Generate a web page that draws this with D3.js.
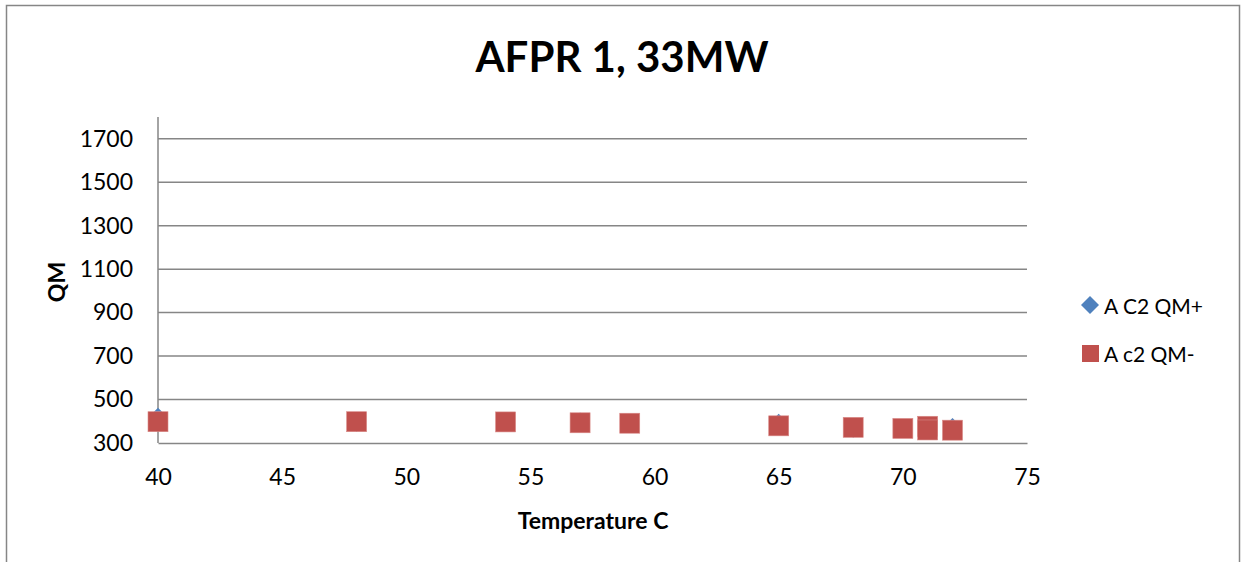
<!DOCTYPE html>
<html>
<head>
<meta charset="utf-8">
<script src="https://cdnjs.cloudflare.com/ajax/libs/d3/7.8.5/d3.min.js"></script>
<style>
  body { margin: 0; background: #fff; }
  text { font-family: Lato, "Open Sans", sans-serif; fill: #000; }
</style>
</head>
<body>
<div id="chart"></div>
<script>
var width = 1242, height = 562;

// data
var temps = [40, 48, 54, 57, 59, 65, 68, 70, 71, 71, 72];
var qmPlus = [421, 393, 398, 399, 392, 393, 365, 365, 372, 368, 374];
var qmMinus = [398, 398, 397, 393, 391, 379, 372, 367, 377, 360, 359];
var xTicks = [40, 45, 50, 55, 60, 65, 70, 75];
var yTicks = [300, 500, 700, 900, 1100, 1300, 1500, 1700];
var seriesNames = ["A C2 QM+", "A c2 QM-"];
var colors = ["#4f81bd", "#c0504d"];

var svg = d3.select("#chart")
    .append("svg")
    .attr("width", width)
    .attr("height", height);

// outer frame (bottom edge runs off the picture)
svg.append("rect")
    .attr("x", 6.5).attr("y", 5.5)
    .attr("width", 1233).attr("height", 600)
    .attr("fill", "none")
    .attr("stroke", "#868686")
    .attr("stroke-width", 1.5);

var x = d3.scaleLinear().domain([40, 75]).range([158, 1027]);
var y = d3.scaleLinear().domain([300, 1800]).range([443, 117]);

// gridlines
svg.append("g")
    .selectAll("line")
    .data(yTicks.slice(1))
    .enter().append("line")
      .attr("x1", x(40)).attr("x2", x(75))
      .attr("y1", function(d) { return y(d); })
      .attr("y2", function(d) { return y(d); })
      .attr("stroke", "#868686")
      .attr("stroke-width", 1.5);

// axes
var xAxis = svg.append("g")
    .attr("transform", "translate(0," + y(300) + ")")
    .call(d3.axisBottom(x).tickValues(xTicks).tickFormat(d3.format("d")).tickSize(0).tickPadding(26));
var yAxis = svg.append("g")
    .attr("transform", "translate(" + x(40) + ",0)")
    .call(d3.axisLeft(y).tickValues(yTicks).tickFormat(d3.format("d")).tickSize(0).tickPadding(25));

[xAxis, yAxis].forEach(function(g) {
  g.select(".domain").attr("stroke", "#868686").attr("stroke-width", 1.5);
  g.selectAll("text")
      .attr("font-family", "Lato, sans-serif")
      .attr("font-size", 23)
      .attr("fill", "#000");
});
yAxis.select(".domain").attr("d", "M0," + y(1800) + "V" + y(300));

// title and axis labels
svg.append("text")
    .attr("x", 622).attr("y", 56)
    .attr("text-anchor", "middle")
    .attr("dominant-baseline", "central")
    .attr("font-size", 42)
    .attr("font-weight", "bold")
    .text("AFPR 1, 33MW");

svg.append("text")
    .attr("x", 593).attr("y", 520)
    .attr("text-anchor", "middle")
    .attr("dominant-baseline", "central")
    .attr("font-size", 23)
    .attr("font-weight", "bold")
    .text("Temperature C");

svg.append("text")
    .attr("transform", "translate(56," + 282 + ") rotate(-90)")
    .attr("text-anchor", "middle")
    .attr("dominant-baseline", "central")
    .attr("font-size", 23)
    .attr("font-weight", "bold")
    .text("QM");

// markers
function diamond(r) {
  return "M0," + (-r) + "L" + r + ",0L0," + r + "L" + (-r) + ",0Z";
}

svg.append("g")
    .selectAll("path")
    .data(temps.map(function(t, i) { return [t, qmPlus[i]]; }))
    .enter().append("path")
      .attr("d", diamond(9))
      .attr("transform", function(d) { return "translate(" + x(d[0]) + "," + y(d[1]) + ")"; })
      .attr("fill", colors[0]);

svg.append("g")
    .selectAll("rect")
    .data(temps.map(function(t, i) { return [t, qmMinus[i]]; }))
    .enter().append("rect")
      .attr("x", function(d) { return x(d[0]) - 10; })
      .attr("y", function(d) { return y(d[1]) - 10; })
      .attr("width", 20).attr("height", 20)
      .attr("fill", colors[1])
      .attr("stroke", "#d98a88")
      .attr("stroke-width", 0.6);

// legend
var legend = svg.append("g");
legend.append("path")
    .attr("d", diamond(9))
    .attr("transform", "translate(1090,305)")
    .attr("fill", colors[0]);
legend.append("rect")
    .attr("x", 1082).attr("y", 345)
    .attr("width", 17).attr("height", 17)
    .attr("fill", colors[1]);
legend.selectAll("text")
    .data(seriesNames)
    .enter().append("text")
      .attr("x", 1104)
      .attr("y", function(d, i) { return 305 + i * 48; })
      .attr("dominant-baseline", "central")
      .attr("font-size", 21)
      .text(function(d) { return d; });
</script>
</body>
</html>
